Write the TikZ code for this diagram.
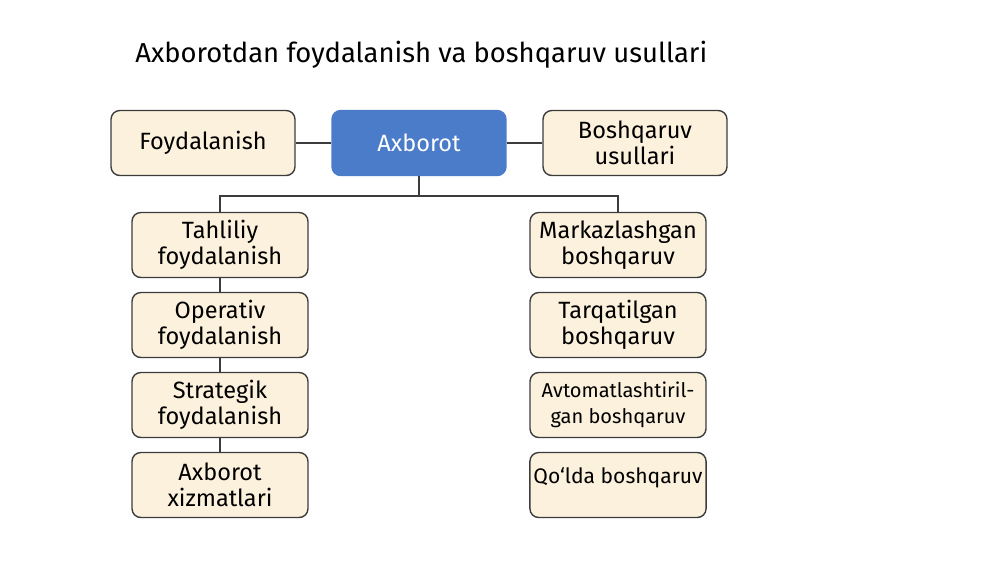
\documentclass[tikz,border=0pt]{standalone}
\usepackage{fontspec}
\setmainfont{Fira Sans}
\definecolor{boxfill}{HTML}{FCF1DC}
\definecolor{boxline}{HTML}{3C3C3C}
\definecolor{mainblue}{HTML}{4A7CC9}
\tikzset{
  box/.style={draw=boxline, fill=boxfill, line width=0.8pt, rounded corners=5pt,
    minimum width=3.68cm, minimum height=1.3cm, align=center, inner xsep=2pt,
    font=\fontsize{13.4}{15}\selectfont},
  colbox/.style={box, minimum width=3.52cm},
  link/.style={draw=boxline, line width=0.8pt}
}
\begin{document}
\begin{tikzpicture}[x=0.02cm, y=-0.02cm]
				\fill[white] (0,0) rectangle (1000,562);
				\useasboundingbox (0,0) rectangle (1000,562);
				\node[anchor=west, inner sep=0pt, font=\fontsize{15.6}{19}\selectfont] (title) at (135,55) {Axborotdan foydalanish va boshqaruv usullari};
				\node[box] (foyda) at (203,143) {Foydalanish};
				\node[box, fill=mainblue, draw=mainblue, text=white, minimum width=3.48cm] (axb) at (419,143) {Axborot};
				\node[box] (bosh) at (635,143) {Boshqaruv\\usullari};
				\node[colbox] (l1) at (220,245) {Tahliliy\\foydalanish};
				\node[colbox] (l2) at (220,325) {Operativ\\foydalanish};
				\node[colbox] (l3) at (220,405) {Strategik\\foydalanish};
				\node[colbox] (l4) at (220,485) {Axborot\\xizmatlari};
				\node[colbox] (r1) at (618,245) {Markazlashgan\\boshqaruv};
				\node[colbox] (r2) at (618,325) {Tarqatilgan\\boshqaruv};
				\node[colbox, font=\fontsize{11.4}{14.5}\selectfont] (r3) at (618,405) {Avtomatlashtiril-\\gan boshqaruv};
				\node[colbox, font=\fontsize{12}{14}\selectfont, text depth=1.1em] (r4) at (618,485) {Qo‘lda boshqaruv};
				\coordinate (fork) at (419,196);
				\draw[link] (foyda) -- (axb);
				\draw[link] (axb) -- (bosh);
				\draw[link] (axb.south) -- (fork);
				\draw[link] (l1.north) |- (fork) -| (r1.north);
				\draw[link] (l1) -- (l2);
				\draw[link] (l2) -- (l3);
				\draw[link] (l3) -- (l4);
			\end{tikzpicture}
\end{document}
